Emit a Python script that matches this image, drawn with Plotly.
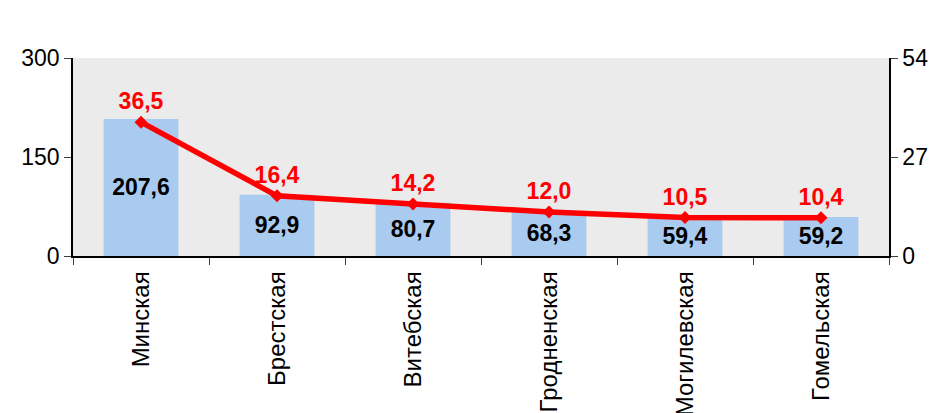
import plotly.graph_objects as go

categories = ["Минская", "Брестская", "Витебская", "Гродненская", "Могилевская", "Гомельская"]
bar_values = [207.6, 92.9, 80.7, 68.3, 59.4, 59.2]
line_values = [36.5, 16.4, 14.2, 12.0, 10.5, 10.4]
left_ticks = [0, 150, 300]
right_ticks = [0, 27, 54]

fmt = lambda v: f"{v:.1f}".replace(".", ",")
FONT = "Liberation Sans, Arial, sans-serif"

fig = go.Figure()
fig.add_trace(go.Bar(
    x=categories, y=bar_values, width=0.55,
    marker=dict(color="#A9CBEF", line=dict(width=0)),
    text=[fmt(v) for v in bar_values], textposition="inside",
    insidetextanchor="middle", textangle=0,
    textfont=dict(family=FONT, size=23, color="black", weight="bold"),
    cliponaxis=False,
))
fig.add_trace(go.Scatter(
    x=categories, y=line_values, yaxis="y2", mode="lines+markers+text",
    line=dict(color="#FF0000", width=5.5),
    marker=dict(symbol="diamond", size=10, color="#FF0000"),
    text=[fmt(v) for v in line_values], textposition="top center",
    textfont=dict(family=FONT, size=23, color="#FF0000", weight="bold"),
    cliponaxis=False,
))

# page body has an 8px default margin, so the figure is sized/offset accordingly
fig.update_layout(
    width=929, height=405,
    margin=dict(l=65, r=48, t=50, b=157),
    paper_bgcolor="white", plot_bgcolor="#EBEBEB",
    showlegend=False, bargap=0.45,
    font=dict(family=FONT, size=23, color="black"),
    xaxis=dict(
        type="category", tickangle=-90, tickson="boundaries",
        ticks="outside", ticklen=7, tickcolor="#404040",
        showline=True, linecolor="black", linewidth=1.5,
        tickfont=dict(family=FONT, size=24, color="black"),
        ticklabelstandoff=4,
        showgrid=False, automargin=False,
    ),
    yaxis=dict(
        range=[0, 300], tickvals=left_ticks, ticks="outside", ticklen=7,
        tickcolor="#404040", showline=True, linecolor="black", linewidth=1.5,
        showgrid=False, zeroline=False, automargin=False,
        tickfont=dict(family=FONT, size=23, color="black"),
    ),
    yaxis2=dict(
        range=[0, 54], tickvals=right_ticks, overlaying="y", side="right",
        ticks="outside", ticklen=7, tickcolor="#404040",
        showline=True, linecolor="black", linewidth=1.5,
        showgrid=False, zeroline=False, automargin=False,
        tickfont=dict(family=FONT, size=23, color="black"),
    ),
)

fig.write_html("out.html")
